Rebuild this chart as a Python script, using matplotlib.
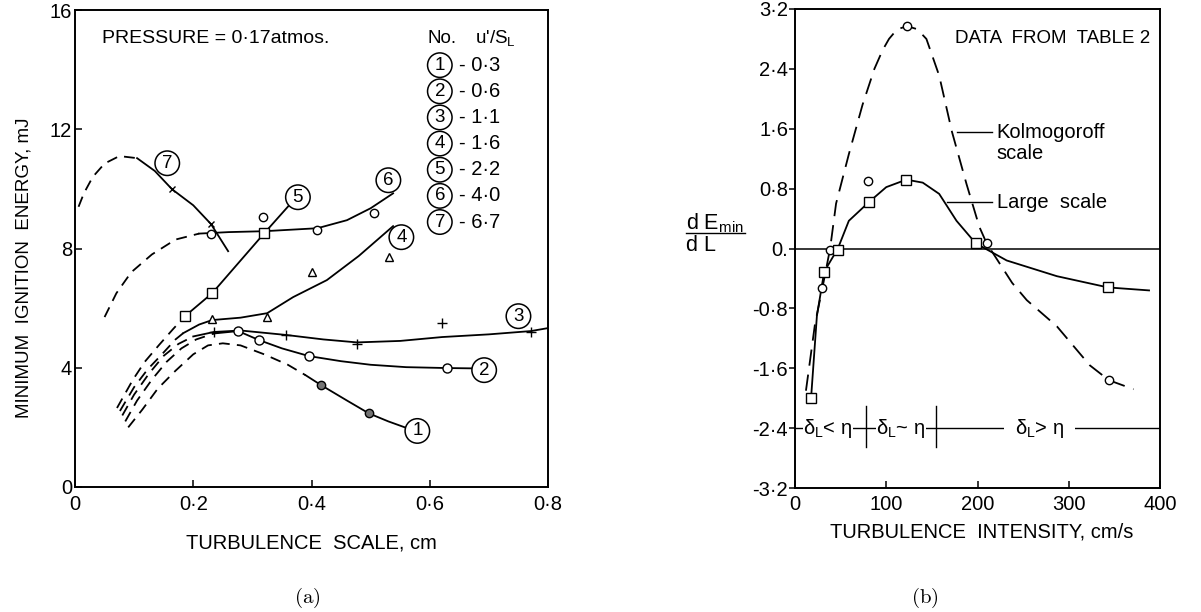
import matplotlib
matplotlib.use('Agg')
import matplotlib.pyplot as plt

plt.rcParams['font.family'] = ['Liberation Sans', 'DejaVu Sans']
plt.rcParams['mathtext.fontset'] = 'custom'
plt.rcParams['mathtext.rm'] = 'Liberation Sans'
plt.rcParams['mathtext.it'] = 'Liberation Sans'

# ---- panel (a): minimum ignition energy vs turbulence scale ----
a_xticks = [0, 0.2, 0.4, 0.6, 0.8]
a_xlabels = ['0', '0·2', '0·4', '0·6', '0·8']
a_yticks = [0, 4, 8, 12, 16]
a_ylabels = ['0', '4', '8', '12', '16']

# curve 1 (u'/SL = 0.3)
c1_dash_x = [0.09, 0.114, 0.14, 0.17, 0.2, 0.225, 0.25, 0.28, 0.32, 0.36, 0.39]
c1_dash_y = [2.0, 2.6, 3.3, 3.9, 4.45, 4.75, 4.82, 4.75, 4.45, 4.1, 3.75]
c1_x = [0.39, 0.416, 0.46, 0.497, 0.53, 0.558]
c1_y = [3.75, 3.42, 2.9, 2.47, 2.2, 2.0]
c1_mx = [0.416, 0.497]
c1_my = [3.42, 2.47]

# curve 2 (0.6)
c2_dash_x = [0.085, 0.105, 0.13, 0.155, 0.18, 0.205, 0.235]
c2_dash_y = [2.2, 2.9, 3.6, 4.2, 4.65, 4.95, 5.15]
c2_x = [0.235, 0.276, 0.311, 0.35, 0.396, 0.45, 0.5, 0.56, 0.629, 0.67]
c2_y = [5.15, 5.23, 4.93, 4.65, 4.39, 4.22, 4.1, 4.02, 3.99, 3.98]
c2_mx = [0.276, 0.311, 0.396, 0.629]
c2_my = [5.23, 4.93, 4.39, 3.99]

# curve 3 (1.1)
c3_dash_x = [0.08, 0.1, 0.125, 0.15, 0.175, 0.2]
c3_dash_y = [2.4, 3.1, 3.8, 4.4, 4.8, 5.05]
c3_x = [0.2, 0.235, 0.28, 0.357, 0.42, 0.477, 0.55, 0.621, 0.7, 0.771, 0.8]
c3_y = [5.05, 5.2, 5.25, 5.1, 4.95, 4.85, 4.9, 5.03, 5.12, 5.23, 5.33]
c3_mx = [0.235, 0.357, 0.477, 0.621, 0.771]
c3_my = [5.2, 5.1, 4.79, 5.5, 5.2]

# curve 4 (1.6)
c4_dash_x = [0.076, 0.1, 0.123, 0.147, 0.17, 0.183]
c4_dash_y = [2.55, 3.35, 3.95, 4.45, 4.95, 5.16]
c4_x = [0.183, 0.21, 0.232, 0.28, 0.325, 0.369, 0.426, 0.48, 0.538]
c4_y = [5.16, 5.45, 5.6, 5.68, 5.83, 6.37, 6.94, 7.75, 8.75]
c4_mx = [0.232, 0.325, 0.401, 0.531]
c4_my = [5.63, 5.70, 7.21, 7.71]

# curve 5 (2.2)
c5_dash_x = [0.071, 0.098, 0.118, 0.142, 0.166, 0.186]
c5_dash_y = [2.65, 3.6, 4.2, 4.76, 5.3, 5.73]
c5_x = [0.186, 0.232, 0.32, 0.364]
c5_y = [5.73, 6.50, 8.51, 9.49]
c5_mx = [0.186, 0.232, 0.32]
c5_my = [5.73, 6.50, 8.51]

# curve 6 (4.0)
c6_dash_x = [0.05, 0.07, 0.095, 0.13, 0.17, 0.21]
c6_dash_y = [5.7, 6.5, 7.2, 7.8, 8.3, 8.5]
c6_x = [0.21, 0.26, 0.32, 0.41, 0.46, 0.5, 0.538]
c6_y = [8.5, 8.55, 8.58, 8.68, 8.95, 9.35, 9.85]
c6_mx = [0.23, 0.318, 0.409, 0.506]
c6_my = [8.48, 9.06, 8.62, 9.19]

# curve 7 (6.7)
c7_dash_x = [0.006, 0.015, 0.03, 0.05, 0.075, 0.105]
c7_dash_y = [9.4, 9.85, 10.4, 10.85, 11.1, 11.03]
c7_x = [0.105, 0.135, 0.164, 0.2, 0.23, 0.259]
c7_y = [11.03, 10.6, 9.99, 9.45, 8.82, 7.91]
c7_mx = [0.164, 0.23]
c7_my = [9.99, 8.82]

legend_no = ['1', '2', '3', '4', '5', '6', '7']
legend_ratio = ['0·3', '0·6', '1·1', '1·6', '2·2', '4·0', '6·7']

# ---- panel (b): dEmin/dL vs turbulence intensity ----
b_xticks = [0, 100, 200, 300, 400]
b_yticks = [3.2, 2.4, 1.6, 0.8, 0, -0.8, -1.6, -2.4, -3.2]
b_ylabels = ['3·2', '2·4', '1·6', '0·8', '0.', '-0·8', '-1·6', '-2·4', '-3·2']

kol_x = [12, 22, 30, 38.5, 45, 59, 74, 87, 96, 103, 112, 123, 134, 144, 158, 172, 188,
         202, 210, 238, 254, 287, 323, 344, 371]
kol_y = [-1.9, -1.0, -0.53, 0.0, 0.6, 1.26, 1.92, 2.4, 2.65, 2.8, 2.93, 2.97, 2.93,
         2.8, 2.31, 1.56, 0.86, 0.29, 0.07, -0.46, -0.69, -1.04, -1.56, -1.76, -1.88]
kol_mx = [30, 38.5, 80, 123, 210, 344]
kol_my = [-0.53, -0.02, 0.9, 2.97, 0.07, -1.76]

large_x = [17.6, 24, 32, 47, 59, 81, 100, 122, 140, 158, 177, 198, 232, 287, 343, 388]
large_y = [-2.0, -0.9, -0.31, 0.0, 0.37, 0.62, 0.82, 0.92, 0.88, 0.73, 0.37, 0.07,
           -0.16, -0.37, -0.52, -0.56]
large_mx = [17.6, 31.9, 47, 81.3, 122, 198, 343]
large_my = [-2.0, -0.31, -0.02, 0.62, 0.92, 0.07, -0.52]

regime_ticks = [78, 155]

fig = plt.figure(figsize=(12.01, 6.12), dpi=100)
LW = 1.3
FS = 13.5

# ================= panel (a) =================
ax = fig.add_axes([75/1201, 125/612, 473/1201, 477/612])
dash_a = (6, 4)
for dx, dy in [(c1_dash_x, c1_dash_y), (c2_dash_x, c2_dash_y), (c3_dash_x, c3_dash_y),
               (c4_dash_x, c4_dash_y), (c5_dash_x, c5_dash_y), (c6_dash_x, c6_dash_y),
               (c7_dash_x, c7_dash_y)]:
    ax.plot(dx, dy, color='k', lw=LW, dashes=dash_a)
for sx, sy in [(c1_x, c1_y), (c2_x, c2_y), (c3_x, c3_y), (c4_x, c4_y),
               (c5_x, c5_y), (c6_x, c6_y), (c7_x, c7_y)]:
    ax.plot(sx, sy, color='k', lw=LW)

mk = dict(ls='none', mec='k', mew=1.0, zorder=3)
ax.plot(c1_mx, c1_my, marker='o', ms=6, mfc='0.45', **mk)
ax.plot(c2_mx, c2_my, marker='o', ms=6.5, mfc='white', **mk)
ax.plot(c3_mx, c3_my, marker='+', ms=7, **mk)
ax.plot(c4_mx, c4_my, marker='^', ms=6, mfc='white', **mk)
ax.plot(c5_mx, c5_my, marker='s', ms=6.5, mfc='white', **mk)
ax.plot(c6_mx, c6_my, marker='o', ms=6, mfc='white', **mk)
ax.plot(c7_mx, c7_my, marker='x', ms=5, **mk)

circ = dict(boxstyle='circle,pad=0.2', fc='white', ec='k', lw=1.1)
curve_labels = [('1', 0.579, 1.88), ('2', 0.692, 3.92), ('3', 0.75, 5.73),
                ('4', 0.552, 8.38), ('5', 0.377, 9.72), ('6', 0.53, 10.29),
                ('7', 0.156, 10.86)]
for t, x, y in curve_labels:
    ax.text(x, y, t, fontsize=FS, ha='center', va='center', bbox=circ, zorder=4)

ax.text(0.045, 15.05, 'PRESSURE = 0·17atmos.', fontsize=FS + 0.5, va='center')
ax.text(0.597, 15.05, 'No.', fontsize=FS, va='center')
ax.text(0.677, 15.05, "u'/S$_\\mathrm{L}$", fontsize=FS, va='center')
for i, (n, r) in enumerate(zip(legend_no, legend_ratio)):
    y = 14.15 - i * 0.877
    ax.text(0.617, y, n, fontsize=FS, ha='center', va='center', bbox=circ)
    ax.text(0.65, y, '- ' + r, fontsize=FS + 1, va='center')

ax.set_xlim(0, 0.8)
ax.set_ylim(0, 16)
ax.set_xticks(a_xticks)
ax.set_xticklabels(a_xlabels)
ax.set_yticks(a_yticks)
ax.set_yticklabels(a_ylabels)
ax.tick_params(direction='in', length=5, width=1.1, labelsize=FS + 1)
ax.tick_params(axis='x', pad=6)
ax.tick_params(axis='y', pad=2)
for s in ax.spines.values():
    s.set_linewidth(1.4)
fig.text(311/1201, 1 - 543/612, 'TURBULENCE  SCALE, cm', fontsize=FS + 1,
         ha='center', va='center')
fig.text(24/1201, 1 - 268/612, 'MINIMUM  IGNITION  ENERGY, mJ', fontsize=FS,
         ha='center', va='center', rotation=90)

# ================= panel (b) =================
bx = fig.add_axes([795/1201, 124/612, 365/1201, 479/612])
bx.axhline(0, color='k', lw=1.1)
bx.plot(kol_x, kol_y, color='k', lw=LW, dashes=(9, 5))
bx.plot(large_x, large_y, color='k', lw=LW)
bx.plot(kol_mx, kol_my, marker='o', ms=6, mfc='white', **mk)
bx.plot(large_mx, large_my, marker='s', ms=7, mfc='white', **mk)

bx.text(175, 2.80, 'DATA  FROM  TABLE 2', fontsize=FS, va='center')
bx.plot([178, 216], [1.55, 1.55], color='k', lw=1.0)
bx.text(221, 1.55, 'Kolmogoroff', fontsize=FS + 1, va='center')
bx.text(221, 1.27, 'scale', fontsize=FS + 1, va='center')
bx.plot([167, 216], [0.62, 0.62], color='k', lw=1.0)
bx.text(221, 0.62, 'Large  scale', fontsize=FS + 1, va='center')

# regime strip
bx.plot([0, 400], [-2.4, -2.4], color='k', lw=1.0)
for rt in regime_ticks:
    bx.plot([rt, rt], [-2.1, -2.65], color='k', lw=1.0)
wb = dict(fc='white', ec='none', pad=0.5)
bx.text(36, -2.4, 'δ$_\\mathrm{L}$< η', fontsize=FS + 1, ha='center', va='center', bbox=wb)
bx.text(116, -2.4, 'δ$_\\mathrm{L}$~ η', fontsize=FS + 1, ha='center', va='center', bbox=wb)
bx.text(268, -2.4, 'δ$_\\mathrm{L}$> η', fontsize=FS + 1, ha='center', va='center',
        bbox=dict(fc='white', ec='none', pad=8))

bx.set_xlim(0, 400)
bx.set_ylim(-3.2, 3.2)
bx.set_xticks(b_xticks)
bx.set_yticks(b_yticks)
bx.set_yticklabels(b_ylabels)
bx.tick_params(labelsize=FS + 1, width=1.1)
bx.tick_params(axis='x', direction='in', length=5, pad=5)
bx.tick_params(axis='y', direction='out', length=4, pad=1)
for s in bx.spines.values():
    s.set_linewidth(1.4)
fig.text(982/1201, 1 - 532/612, 'TURBULENCE  INTENSITY, cm/s', fontsize=FS + 1,
         ha='center', va='center')

# dEmin/dL fraction label
fig.text(686/1201, 1 - 229/612, 'd E$_\\mathrm{min}$', fontsize=FS + 2, ha='left',
         va='baseline')
fig.add_artist(plt.Line2D([686/1201, 745/1201], [1 - 233/612, 1 - 233/612],
                          color='k', lw=1.0))
fig.text(686/1201, 1 - 251/612, 'd L', fontsize=FS + 2, ha='left', va='baseline')

fig.text(307/1201, 1 - 598/612, '$\\mathrm{(a)}$', fontsize=15, math_fontfamily='cm',
         ha='center', va='center')
fig.text(925/1201, 1 - 598/612, '$\\mathrm{(b)}$', fontsize=15, math_fontfamily='cm',
         ha='center', va='center')

fig.savefig('out.png', dpi=100)
